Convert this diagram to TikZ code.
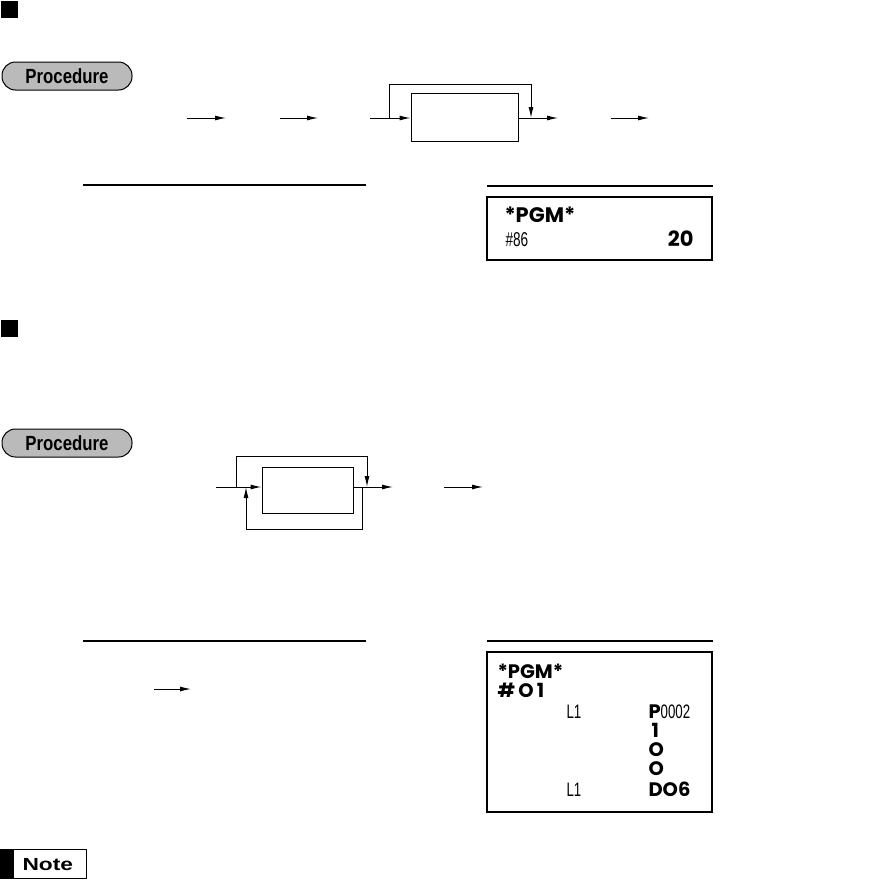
\documentclass[tikz,border=0pt]{standalone}
\usepackage{fontspec}
\usepackage{graphicx}
\setmainfont{Liberation Sans}
\newfontfamily\narrowf[FakeStretch=0.68]{Liberation Sans}
\newfontfamily\condf[FakeStretch=0.82]{Liberation Sans}
\newfontfamily\dispf{Poppins}
\usetikzlibrary{arrows.meta}
\begin{document}
\begin{tikzpicture}[x=1pt,y=-1pt,line width=1pt,
  arr/.style={-{Latex[length=11pt,width=5pt]}},
  flowbox/.style={draw,line width=1pt,inner sep=0pt},
  pill/.style={draw,fill=black!27,rounded corners=13.5pt,line width=1pt,
    minimum width=130pt,minimum height=28pt,inner sep=0pt,
    font=\condf\bfseries\fontsize{20.5}{20}\selectfont},
  blk/.style={fill=black,inner sep=0pt,minimum size=17pt,anchor=north west},
  rulel/.style={line width=1.3pt},
  dispbox/.style={draw,line width=1.3pt},
  txt/.style={inner sep=0pt,anchor=base west,text height=13pt,text depth=0pt},
  big/.style={txt,font=\dispf\bfseries\fontsize{19.5}{19}\selectfont},
  nar/.style={txt,font=\narrowf\fontsize{19.5}{19}\selectfont}
]
\useasboundingbox (0,0) rectangle (878,881);

% section marks
\node[blk] (mark1) at (0,0) {};
\node[blk] (mark2) at (0,319) {};

% procedure pills
\node[pill] (proc1) at (67,76) {Procedure};
\node[pill] (proc2) at (67,443) {Procedure};

% ---- row 1 flow
\node[flowbox,minimum width=107pt,minimum height=48pt] (box1) at (464.5,117) {};
\coordinate (a1s) at (187,118); \coordinate (a1e) at (226,118);
\coordinate (a2s) at (280,118); \coordinate (a2e) at (318,118);
\coordinate (a3s) at (370,118);
\coordinate (b1) at (389,118); \coordinate (b2) at (531,118);
\coordinate (o1e) at (558,118);
\coordinate (a5s) at (611,118); \coordinate (a5e) at (649,118);
\draw[arr] (a1s) -- (a1e);
\draw[arr] (a2s) -- (a2e);
\draw[arr] (a3s) -- (a3s -| box1.west);
\draw[arr] (b1) -- ++(0,-34) -| (b2);
\draw[arr] (o1e -| box1.east) -- (o1e);
\draw[arr] (a5s) -- (a5e);

% rules row 1
\draw[rulel] (83,185) -- (366,185);
\draw[rulel] (487,186) -- (713,186);

% display 1
\node[dispbox,minimum width=225pt,minimum height=63pt,inner sep=0pt] (disp1) at (599.5,228.5) {};
\node[big,font=\dispf\bfseries\fontsize{21}{21}\selectfont] (d1a) at (504,222) {*PGM*};
\node[nar,font=\narrowf\fontsize{20}{20}\selectfont] (d1b) at (505,246) {\#86};
\node[big,anchor=base east,font=\dispf\bfseries\fontsize{21}{21}\selectfont] (d1c) at (694,246) {20};

% ---- row 2 flow
\node[flowbox,minimum width=91pt,minimum height=46pt] (box2) at (307.5,490) {};
\coordinate (in2) at (216,487);
\coordinate (t2s) at (236,487); \coordinate (t2e) at (367,487);
\coordinate (o2e) at (393,487);
\coordinate (f2s) at (362,487); \coordinate (f2e) at (246,487);
\coordinate (a6s) at (444,487); \coordinate (a6e) at (483,487);
\draw[arr] (in2) -- (in2 -| box2.west);
\draw[arr] (t2s) -- ++(0,-31) -| (t2e);
\draw[arr] (o2e -| box2.east) -- (o2e);
\draw[arr] (f2s) -- ++(0,42) -| (f2e);
\draw[arr] (a6s) -- (a6e);

% rules row 2
\draw[rulel] (83,641) -- (366,641);
\draw[rulel] (487,641) -- (713,641);

\coordinate (s1) at (154,689); \coordinate (s2) at (191,689);
\draw[arr] (s1) -- (s2);

% display 2
\node[dispbox,minimum width=225pt,minimum height=160pt,inner sep=0pt] (disp2) at (599.5,732) {};
\node[big] (e1) at (497,678) {*PGM*};
\node[big] (e2) at (497,697) {\#\,O\,1};
\node[nar] (e3) at (566,718) {L1};
\node[txt] (e4) at (648,718) {{\dispf\bfseries\fontsize{19.5}{19}\selectfont P}{\narrowf\fontsize{19.5}{19}\selectfont 0002}};
\node[big] (e5) at (651,737) {1};
\node[big] (e6) at (648,756) {O};
\node[big] (e7) at (648,775) {O};
\node[nar] (e8) at (566,796) {L1};
\node[big] (e9) at (648,796) {DO6};

% note
\node[draw,line width=1pt,minimum width=86pt,minimum height=29pt,anchor=north west,inner sep=0pt] (notebox) at (0,849) {};
\node[fill=black,minimum width=13pt,minimum height=29pt,anchor=north west,inner sep=0pt] (notebar) at (0,849) {};
\node[txt,font=\bfseries\fontsize{17.5}{17}\selectfont] (notetxt) at (22,870) {\scalebox{1.3}[1]{Note}};
\end{tikzpicture}
\end{document}
